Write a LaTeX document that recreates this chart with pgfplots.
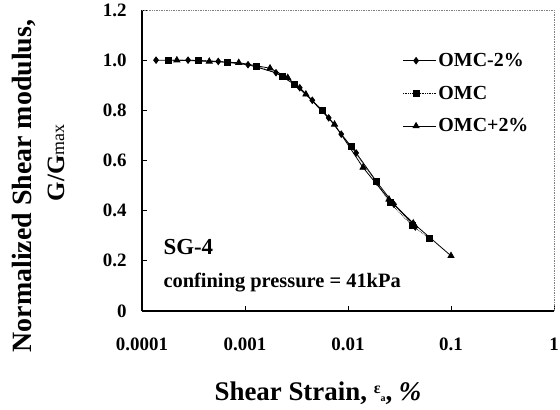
\documentclass[border=0pt]{standalone}
\usepackage{pgfplots}
\pgfplotsset{compat=1.18}
\usepackage{fontspec}
\setmainfont{Liberation Serif}
\begin{document}
\begin{tikzpicture}
\useasboundingbox (-142bp,-99bp) rectangle (418bp,311bp);
\begin{axis}[
  at={(0,0)}, anchor=south west,
  scale only axis, width=412bp, height=301bp,
  xmode=log, xmin=1e-4, xmax=1, ymin=0, ymax=1.2,
  axis x line*=bottom, axis y line*=left,
  axis line style={line width=1.2bp},
  xtick={1e-4,1e-3,1e-2,1e-1,1}, xticklabels={0.0001,0.001,0.01,0.1,1},
  ytick={0,0.2,0.4,0.6,0.8,1.0,1.2}, yticklabels={0,0.2,0.4,0.6,0.8,1.0,1.2},
  xminorticks=false, yminorticks=false,
  tick align=inside, major tick length=5bp, tick style={black, line width=0.8bp},
  ticklabel style={font=\fontsize{19}{19}\selectfont\bfseries},
  /pgf/number format/assume math mode=true,
  yticklabel style={xshift=-12bp},
  xticklabel style={yshift=-23bp},
  clip=false,
  legend style={draw=none, fill=none, at={(rel axis cs:0.625,0.87)}, anchor=north west,
    font=\fontsize{20}{22}\selectfont\bfseries, row sep=14bp},
  legend cell align=left,
  legend image code/.code={\draw[mark repeat=2,mark phase=2,#1] plot coordinates {(0bp,0bp)(13bp,0bp)(26bp,0bp)}; \path (0bp,0bp) -- (33bp,0bp);},
]
\draw[gray, densely dotted, line width=0.7bp] (rel axis cs:0,1) -- (rel axis cs:1,1) -- (rel axis cs:1,0);
\addplot[black, line width=0.8bp, mark=diamond*, mark size=3.2bp] coordinates {
(1.37e-4,1.000) (2.8e-4,1.000) (5.5e-4,0.995) (1.07e-3,0.982) (2.0e-3,0.950)
(3.4e-3,0.890) (4.5e-3,0.840) (6.5e-3,0.770) (8.6e-3,0.705) (1.2e-2,0.630)
(1.9e-2,0.515) (2.8e-2,0.425) (4.5e-2,0.335)};
\addlegendentry{OMC-2\%}
\addplot[black, densely dotted, line width=0.7bp, mark=square*, mark size=3bp, mark options={solid}] coordinates {
(1.79e-4,1.000) (3.5e-4,1.000) (6.8e-4,0.993) (1.3e-3,0.977) (2.33e-3,0.937)
(3.0e-3,0.905) (5.7e-3,0.800) (1.07e-2,0.656) (1.87e-2,0.516) (2.55e-2,0.432)
(4.2e-2,0.340) (6.1e-2,0.290)};
\addlegendentry{OMC}
\addplot[black, line width=0.8bp, mark=triangle*, mark size=3.5bp, mark options={solid}] coordinates {
(2.18e-4,1.000) (4.5e-4,0.995) (8.7e-4,0.990) (1.75e-3,0.968) (2.6e-3,0.930)
(3.9e-3,0.864) (7.4e-3,0.744) (1.4e-2,0.572) (2.5e-2,0.445) (4.3e-2,0.350)
(0.1,0.220)};
\addlegendentry{OMC+2\%}
\end{axis}
\node[anchor=west, font=\fontsize{23}{23}\selectfont\bfseries] at (18bp,64bp) {SG-4};
\node[anchor=west, font=\fontsize{20.5}{20.5}\selectfont\bfseries] at (18bp,28bp) {confining pressure = 41kPa};
\node[rotate=90, font=\fontsize{28}{28}\selectfont\bfseries] at (-118bp,125bp) {Normalized Shear modulus,};
\node[rotate=90, font=\fontsize{25}{25}\selectfont] at (-86bp,148bp) {\textbf{G/G}{\fontsize{18}{18}\selectfont max}};
\node[font=\fontsize{27}{27}\selectfont\bfseries] at (176bp,-82bp) {Shear Strain, \raisebox{7bp}{\fontsize{16}{16}\selectfont ε}\raisebox{-1bp}{\fontsize{10}{10}\selectfont a}, \textit{\%}};
\end{tikzpicture}
\end{document}
